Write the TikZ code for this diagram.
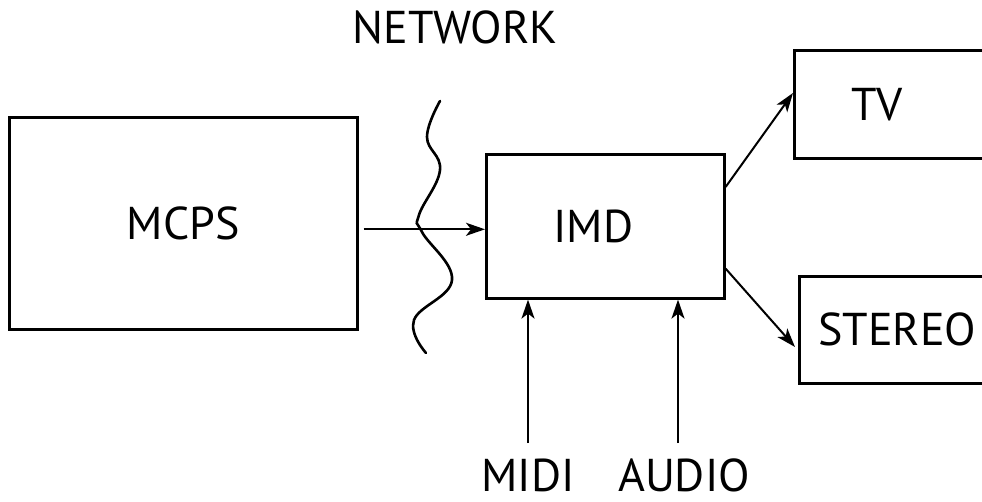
\documentclass[tikz,border=0pt]{standalone}
\usepackage{fontspec}
\setmainfont{PT Sans}
\usetikzlibrary{arrows.meta,positioning,calc}
\tikzset{
	devbox/.style={draw=black, line width=2.6pt, fill=white, anchor=north west,
		inner sep=0pt, font=\fontsize{46}{50}\selectfont},
	sidebox/.style={devbox, align=left, text width=230pt},
	lbl/.style={inner sep=1pt, font=\fontsize{46}{50}\selectfont},
	arr/.style={-{Stealth[length=19pt,width=13pt,inset=5pt]}, line width=2pt},
	wave/.style={line width=2.6pt, line cap=round},
}

\begin{document}
\begin{tikzpicture}[x=1pt, y=-1pt]
	\useasboundingbox (0,0) rectangle (982,502);
	\clip (0,0) rectangle (982,502);
	\node[devbox, minimum width=348pt, minimum height=212pt] (mcps) at (8,116) {MCPS};
	\node[devbox, minimum width=238pt, minimum height=144pt] (imd) at (485,153) {IMD\hspace*{24pt}};
	\node[sidebox, minimum height=108pt] (tv) at (793,49) {\hspace*{57pt}TV};
	\node[sidebox, minimum height=107pt] (stereo) at (798,275) {\hspace*{19pt}STEREO};
	\node[lbl] (net) at (455,27) {NETWORK};
	\node[lbl, anchor=base] (midi) at (528,491) {MIDI};
	\node[lbl, anchor=base] (audio) at (684,491) {AUDIO};
	% network cut
	\draw[wave] plot[smooth, tension=0.7] coordinates {(440,101) (427,137) (440,170) (419,215)
		(422,232) (452,280) (414,320) (426,353)};
	\draw[arr] ($(mcps.east)+(5,6)$) -- ($(imd.west)+(0,3)$);
	\draw[arr] ($(imd.north east)+(0,34)$) -- ($(tv.north west)+(0,44)$);
	\draw[arr] ($(imd.south east)+(0,-31)$) -- ($(stereo.north west)+(-3,72)$);
	\draw[arr] ([yshift=14pt]midi.north) -- (midi.north |- imd.south);
	\draw[arr] ([xshift=-6pt,yshift=14pt]audio.north) -- ([xshift=-6pt]audio.north |- imd.south);
\end{tikzpicture}
\end{document}
